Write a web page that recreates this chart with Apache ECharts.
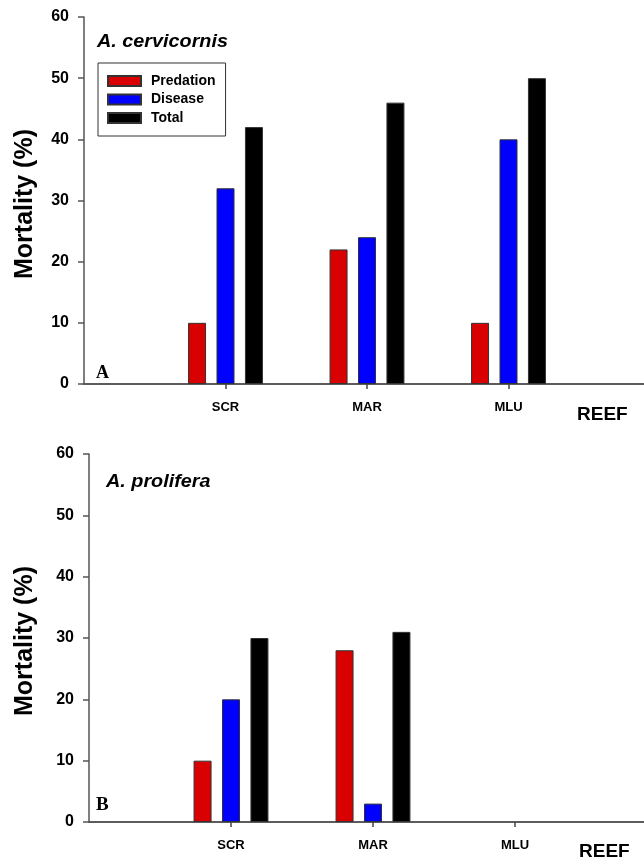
<!DOCTYPE html>
<html>
<head>
<meta charset="utf-8">
<script src="https://cdn.jsdelivr.net/npm/echarts@6/dist/echarts.min.js"></script>
<style>
html,body{margin:0;padding:0;background:#fff;}
#c{width:644px;height:865px;}
</style>
</head>
<body>
<div id="c"></div>
<script>
var categories = ['SCR', 'MAR', 'MLU'];
var yTicks = [0, 10, 20, 30, 40, 50, 60];
var cervPredation = [10, 22, 10];
var cervDisease = [32, 24, 40];
var cervTotal = [42, 46, 50];
var prolPredation = [10, 28, null];
var prolDisease = [20, 3, null];
var prolTotal = [30, 31, null];

var colors = { Predation: '#d80000', Disease: '#0000ff', Total: '#000000' };
var FONT = 'Liberation Sans, Arial, sans-serif';

function pairs(vals) {
  return vals.map(function (v, i) { return [i + 1, v]; });
}
function barSeries(name, vals, idx) {
  return {
    type: 'bar', name: name, xAxisIndex: idx, yAxisIndex: idx,
    data: pairs(vals), barWidth: 18, barGap: '58%',
    itemStyle: { color: colors[name], borderColor: '#333', borderWidth: 1 },
    silent: true, animation: false
  };
}
function xAx(idx) {
  return {
    type: 'value', gridIndex: idx, min: 0, max: 4, interval: 1,
    axisLine: { show: true, onZero: false, lineStyle: { color: '#444', width: 1.5 } },
    axisTick: { show: true, customValues: [1, 2, 3], length: 5, lineStyle: { color: '#444', width: 1.5 } },
    axisLabel: {
      customValues: [1, 2, 3],
      formatter: function (v) { return categories[v - 1] || ''; },
      fontFamily: FONT, fontWeight: 'bold', fontSize: 13, color: '#000', margin: 17
    },
    splitLine: { show: false }
  };
}
function xTop(idx) {
  return {
    type: 'value', gridIndex: idx, position: 'top', min: 0, max: 4,
    axisLine: { show: true, lineStyle: { color: '#555', width: 1.5 } },
    axisTick: { show: false }, axisLabel: { show: false }, splitLine: { show: false }
  };
}
function yAx(idx) {
  return {
    type: 'value', gridIndex: idx, min: yTicks[0], max: yTicks[yTicks.length - 1], interval: 10,
    axisLine: { show: true, lineStyle: { color: '#555', width: 1.5 } },
    axisTick: { show: true, inside: false, length: 6, lineStyle: { color: '#555', width: 1.5 } },
    axisLabel: { fontFamily: FONT, fontWeight: 'bold', fontSize: 16, color: '#000', margin: 15 },
    splitLine: { show: false }
  };
}
function ttl(text, x, y) {
  return { type: 'text', x: x, y: y, scaleX: 1.1, style: { text: text, font: 'italic bold 18px ' + FONT, fill: '#000', verticalAlign: 'top' } };
}

var chart = echarts.init(document.getElementById('c'), null, { renderer: 'canvas' });
chart.setOption({
  animation: false,
  backgroundColor: '#fff',
  grid: [
    { left: 84, top: 17, width: 566, height: 367, containLabel: false, outerBoundsMode: 'none' },
    { left: 89, top: 454, width: 568, height: 368, containLabel: false, outerBoundsMode: 'none' }
  ],
  xAxis: [xAx(0), xAx(1), xTop(0), xTop(1)],
  yAxis: [yAx(0), yAx(1)],
  legend: {
    show: true, left: 98, top: 63, orient: 'vertical',
    data: ['Predation', 'Disease', 'Total'],
    itemWidth: 33, itemHeight: 10, itemGap: 4.5,
    padding: [11, 10, 11, 9],
    borderColor: '#333', borderWidth: 1,
    icon: 'rect', selectedMode: false,
    textStyle: { fontFamily: FONT, fontWeight: 'bold', fontSize: 14, color: '#000', padding: [0, 0, 0, 5] }
  },
  series: [
    barSeries('Predation', cervPredation, 0),
    barSeries('Disease', cervDisease, 0),
    barSeries('Total', cervTotal, 0),
    barSeries('Predation', prolPredation, 1),
    barSeries('Disease', prolDisease, 1),
    barSeries('Total', prolTotal, 1)
  ],
  graphic: [
    ttl('A. cervicornis', 97, 33),
    ttl('A. prolifera', 106, 473),
    { type: 'text', left: 96, top: 364, style: { text: 'A', font: 'bold 18px Liberation Serif, Times New Roman, serif', fill: '#000' } },
    { type: 'text', left: 96, top: 796, style: { text: 'B', font: 'bold 19px Liberation Serif, Times New Roman, serif', fill: '#000' } },
    { type: 'text', x: 25, y: 204, rotation: Math.PI / 2, style: { text: 'Mortality (%)', font: 'bold 25px ' + FONT, fill: '#000', align: 'center', verticalAlign: 'middle' } },
    { type: 'text', x: 25, y: 641, rotation: Math.PI / 2, style: { text: 'Mortality (%)', font: 'bold 25px ' + FONT, fill: '#000', align: 'center', verticalAlign: 'middle' } },
    { type: 'text', left: 577, top: 405, style: { text: 'REEF', font: 'bold 19px ' + FONT, fill: '#000' } },
    { type: 'text', left: 579, top: 842, style: { text: 'REEF', font: 'bold 19px ' + FONT, fill: '#000' } }
  ]
});
</script>
</body>
</html>
